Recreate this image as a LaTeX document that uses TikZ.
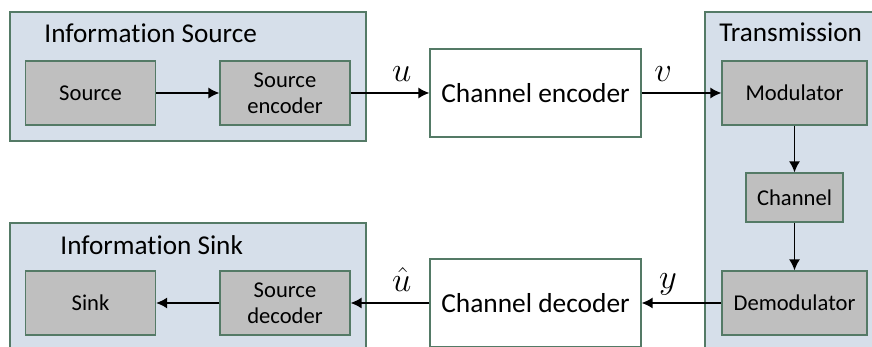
\documentclass[tikz,border=0pt]{standalone}
\usepackage{fontspec}
\setmainfont{Carlito}[Ligatures=NoCommon]
\usetikzlibrary{arrows.meta}
\definecolor{grpfill}{RGB}{214,223,234}
\definecolor{edgegreen}{RGB}{84,122,102}
\definecolor{boxgray}{RGB}{191,191,191}
\tikzset{
  group/.style={draw=edgegreen, fill=grpfill, line width=0.6pt, inner sep=0pt},
  block/.style={draw=edgegreen, fill=boxgray, line width=0.6pt, minimum width=65pt,
    minimum height=32pt, align=center, font=\fontsize{11.3}{13}\selectfont},
  coder/.style={draw=edgegreen, fill=white, line width=0.6pt, minimum width=105.5pt,
    minimum height=44pt, font=\fontsize{13.7}{15}\selectfont},
  title/.style={anchor=base west, inner sep=0pt, font=\fontsize{13.6}{15}\selectfont},
  sig/.style={-{Latex[length=5.5pt,width=5.5pt]}, line width=0.75pt},
  siglabel/.style={font=\fontsize{16}{18}\selectfont},
}
\begin{document}
\begin{tikzpicture}[x=0.5pt, y=0.5pt]
      \useasboundingbox (0,0) rectangle (872,347);
      \clip (0,0) rectangle (872,347);
      \draw
        (188,270.5) node[group, minimum width=178pt, minimum height=64.5pt] (srcgrp){}
        (792.5,163.5) node[group, minimum width=87.5pt, minimum height=171.5pt] (txgrp){}
        (188,58) node[group, minimum width=178pt, minimum height=66pt] (sinkgrp){};
      \draw
        (44,304) node[title] (srctitle){Information Source}
        (719,305) node[title] (txtitle){Transmission}
        (60,92) node[title] (sinktitle){Information Sink};
      \draw
        (90.5,254) node[block] (src){Source}
        (285,254) node[block] (srcenc){Source\\encoder}
        (535.5,254) node[coder] (chenc){Channel encoder}
        (794.5,254) node[block, minimum width=72.5pt] (mod){Modulator}
        (794.5,149.5) node[block, minimum width=48.5pt, minimum height=24.5pt] (chan){Channel}
        (794.5,44) node[block, minimum width=72.5pt] (demod){Demodulator}
        (535.5,44) node[coder] (chdec){Channel decoder}
        (285,44) node[block] (srcdec){Source\\decoder}
        (90.5,44) node[block] (sink){Sink};
      \begin{scope}[sig]
        \draw (src) to (srcenc);
        \draw (srcenc) to node[siglabel, pos=0.65, above=2pt]{$u$} (chenc);
        \draw (chenc) to node[siglabel, pos=0.27, above=2pt]{$v$} (mod);
        \draw (mod) to (chan);
        \draw (chan) to (demod);
        \draw (demod) to node[siglabel, pos=0.67, above=0pt]{$y$} (chdec);
        \draw (chdec) to node[siglabel, pos=0.35, above=2pt]{$\hat{u}$} (srcdec);
        \draw (srcdec) to (sink);
      \end{scope}
    \end{tikzpicture}
\end{document}
